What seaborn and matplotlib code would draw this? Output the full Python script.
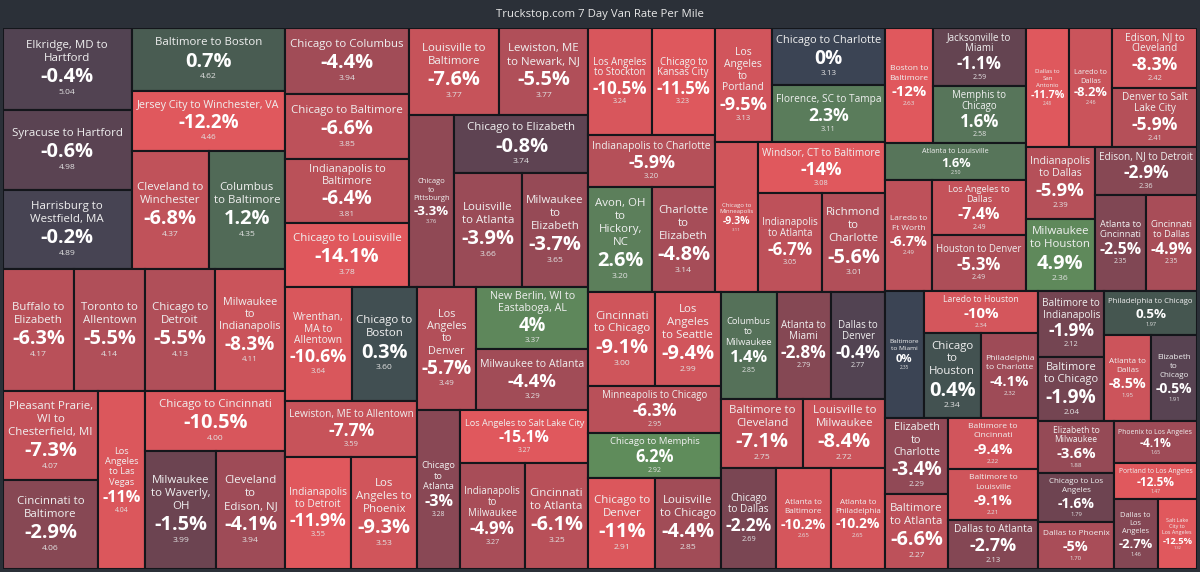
import numpy as np
import pandas as pd
import matplotlib
matplotlib.use("Agg")
import matplotlib.pyplot as plt
from matplotlib.patches import Rectangle
from matplotlib.textpath import TextPath
from matplotlib.font_manager import FontProperties
import seaborn as sns

# ------------------------------------------------------------------
# Data: lane, 7-day % change, rate per mile (tile area = rate)
# ------------------------------------------------------------------
lanes = [
    "Elkridge, MD to Hartford", "Syracuse to Hartford", "Harrisburg to Westfield, MA",
    "Baltimore to Boston", "Jersey City to Winchester, VA", "Cleveland to Winchester",
    "Columbus to Baltimore", "Buffalo to Elizabeth", "Toronto to Allentown",
    "Chicago to Detroit", "Milwaukee to Indianapolis", "Pleasant Prarie, WI to Chesterfield, MI",
    "Cincinnati to Baltimore", "Los Angeles to Las Vegas", "Chicago to Cincinnati",
    "Milwaukee to Waverly, OH", "Cleveland to Edison, NJ", "Chicago to Columbus",
    "Chicago to Baltimore", "Indianapolis to Baltimore", "Chicago to Louisville",
    "Louisville to Baltimore", "Lewiston, ME to Newark, NJ", "Chicago to Pittsburgh",
    "Chicago to Elizabeth", "Louisville to Atlanta", "Milwaukee to Elizabeth",
    "Wrenthan, MA to Allentown", "Chicago to Boston", "Lewiston, ME to Allentown",
    "Indianapolis to Detroit", "Los Angeles to Phoenix", "Los Angeles to Denver",
    "New Berlin, WI to Eastaboga, AL", "Milwaukee to Atlanta", "Chicago to Atlanta",
    "Los Angeles to Salt Lake City", "Indianapolis to Milwaukee", "Cincinnati to Atlanta",
    "Los Angeles to Stockton", "Chicago to Kansas City", "Indianapolis to Charlotte",
    "Avon, OH to Hickory, NC", "Charlotte to Elizabeth", "Los Angeles to Portland",
    "Chicago to Charlotte", "Florence, SC to Tampa", "Chicago to Minneapolis",
    "Windsor, CT to Baltimore", "Indianapolis to Atlanta", "Richmond to Charlotte",
    "Cincinnati to Chicago", "Los Angeles to Seattle", "Minneapolis to Chicago",
    "Chicago to Memphis", "Chicago to Denver", "Louisville to Chicago",
    "Columbus to Milwaukee", "Atlanta to Miami", "Dallas to Denver",
    "Baltimore to Cleveland", "Louisville to Milwaukee", "Chicago to Dallas",
    "Atlanta to Baltimore", "Atlanta to Philadelphia", "Boston to Baltimore",
    "Jacksonville to Miami", "Memphis to Chicago", "Atlanta to Louisville",
    "Laredo to Ft Worth", "Los Angeles to Dallas", "Houston to Denver",
    "Dallas to San Antonio", "Laredo to Dallas", "Edison, NJ to Cleveland",
    "Denver to Salt Lake City", "Indianapolis to Dallas", "Milwaukee to Houston",
    "Edison, NJ to Detroit", "Atlanta to Cincinnati", "Cincinnati to Dallas",
    "Baltimore to Miami", "Laredo to Houston", "Chicago to Houston",
    "Philadelphia to Charlotte", "Elizabeth to Charlotte", "Baltimore to Atlanta",
    "Baltimore to Cincinnati", "Baltimore to Louisville", "Dallas to Atlanta",
    "Baltimore to Indianapolis", "Baltimore to Chicago", "Philadelphia to Chicago",
    "Atlanta to Dallas", "Elizabeth to Chicago", "Elizabeth to Milwaukee",
    "Chicago to Los Angeles", "Dallas to Phoenix", "Phoenix to Los Angeles",
    "Portland to Los Angeles", "Dallas to Los Angeles", "Salt Lake City to Los Angeles",
]
pct_change = [
    -0.4, -0.6, -0.2, 0.7, -12.2, -6.8, 1.2, -6.3, -5.5, -5.5, -8.3, -7.3,
    -2.9, -11, -10.5, -1.5, -4.1, -4.4, -6.6, -6.4, -14.1, -7.6, -5.5, -3.3,
    -0.8, -3.9, -3.7, -10.6, 0.3, -7.7, -11.9, -9.3, -5.7, 4, -4.4, -3,
    -15.1, -4.9, -6.1, -10.5, -11.5, -5.9, 2.6, -4.8, -9.5, 0, 2.3, -9.3,
    -14, -6.7, -5.6, -9.1, -9.4, -6.3, 6.2, -11, -4.4, 1.4, -2.8, -0.4,
    -7.1, -8.4, -2.2, -10.2, -10.2, -12, -1.1, 1.6, 1.6, -6.7, -7.4, -5.3,
    -11.7, -8.2, -8.3, -5.9, -5.9, 4.9, -2.9, -2.5, -4.9, 0, -10, 0.4,
    -4.1, -3.4, -6.6, -9.4, -9.1, -2.7, -1.9, -1.9, 0.5, -8.5, -0.5, -3.6,
    -1.6, -5, -4.1, -12.5, -2.7, -12.5,
]
rate = [
    5.04, 4.98, 4.89, 4.62, 4.46, 4.37, 4.35, 4.17, 4.14, 4.13, 4.11, 4.07,
    4.06, 4.04, 4.00, 3.99, 3.94, 3.94, 3.85, 3.81, 3.78, 3.77, 3.77, 3.76,
    3.74, 3.66, 3.65, 3.64, 3.60, 3.59, 3.55, 3.53, 3.49, 3.37, 3.29, 3.28,
    3.27, 3.27, 3.25, 3.24, 3.23, 3.20, 3.20, 3.14, 3.13, 3.13, 3.11, 3.11,
    3.08, 3.05, 3.01, 3.00, 2.99, 2.95, 2.92, 2.91, 2.85, 2.85, 2.79, 2.77,
    2.75, 2.72, 2.69, 2.65, 2.65, 2.63, 2.59, 2.58, 2.50, 2.49, 2.49, 2.49,
    2.48, 2.46, 2.42, 2.41, 2.39, 2.36, 2.36, 2.35, 2.35, 2.35, 2.34, 2.34,
    2.32, 2.29, 2.27, 2.22, 2.21, 2.13, 2.12, 2.04, 1.97, 1.95, 1.91, 1.88,
    1.79, 1.70, 1.65, 1.47, 1.46, 1.32,
]
title = "Truckstop.com 7 Day Van Rate Per Mile"

df = pd.DataFrame({"lane": lanes, "pct": pct_change, "rate": rate})
df = df.sort_values("rate", ascending=False, kind="mergesort").reset_index(drop=True)

# ------------------------------------------------------------------
# Binary treemap layout (split at half of the value, along the long side)
# ------------------------------------------------------------------
W, H = 1194.0, 541.0
rects = [None] * len(df)
vals = df["rate"].values


def partition(i, j, x0, y0, x1, y1):
    if j - i == 1:
        rects[i] = (x0, y0, x1, y1)
        return
    sub = vals[i:j]
    total = sub.sum()
    cum = np.cumsum(sub)
    k = int(np.sum(cum <= total / 2 + 1e-9))
    k = max(1, min(k, j - i - 1))
    left = cum[k - 1]
    if (x1 - x0) > (y1 - y0):
        xm = x0 + (x1 - x0) * left / total
        partition(i, i + k, x0, y0, xm, y1)
        partition(i + k, j, xm, y0, x1, y1)
    else:
        ym = y0 + (y1 - y0) * left / total
        partition(i, i + k, x0, y0, x1, ym)
        partition(i + k, j, x0, ym, x1, y1)


partition(0, len(df), 0, 0, W, H)

# ------------------------------------------------------------------
# Colours
# ------------------------------------------------------------------
stop_pct = [-12, -7, -4, -1.5, -0.5, 0, 0.5, 1.5, 3, 6]
stop_col = ["#e0585d", "#c2525a", "#9c4b57", "#6c4451", "#584352",
            "#3b4454", "#455650", "#56735a", "#5e845b", "#5f8c5b"]
cmap = sns.blend_palette(stop_col, n_colors=256, as_cmap=True)

sns.set_theme(style="dark")
plt.rcParams["font.family"] = ["Open Sans", "DejaVu Sans"]

fp_reg = FontProperties(family="Open Sans")
fp_bold = FontProperties(family="Open Sans", weight="bold")
_cache = {}


def text_w(s, bold=False):
    key = (s, bold)
    if key not in _cache:
        tp = TextPath((0, 0), s, size=100, prop=fp_bold if bold else fp_reg)
        _cache[key] = tp.get_extents().width / 100.0
    return _cache[key]


def wrap_options(words):
    n = len(words)
    for mask in range(2 ** (n - 1)):
        lines, cur = [], [words[0]]
        for q in range(1, n):
            if (mask >> (q - 1)) & 1:
                lines.append(" ".join(cur))
                cur = [words[q]]
            else:
                cur.append(words[q])
        lines.append(" ".join(cur))
        yield lines


LAB, PCT, RATE = 11.5, 20.0, 8.5   # base sizes in px
LH_LAB, LH_PCT, LH_RATE = 1.12, 1.12, 1.25
PX2PT = 0.72

fig = plt.figure(figsize=(12, 5.72), dpi=100, facecolor="#2b3038")
fig.text(0.5, 1 - 14 / 572, title, ha="center", va="center",
         color="#e8e8e8", fontsize=8.2)
ax = fig.add_axes([3 / 1200, 3 / 572, W / 1200, H / 572])
ax.set_xlim(0, W)
ax.set_ylim(H, 0)
ax.axis("off")

for idx, row in df.iterrows():
    x0, y0, x1, y1 = rects[idx]
    w, h = x1 - x0, y1 - y0
    pos = np.interp(row["pct"], stop_pct, np.linspace(0, 1, len(stop_pct)))
    ax.add_patch(Rectangle((x0, y0), w, h, facecolor=cmap(pos),
                           edgecolor="#14161b", linewidth=1.5))

    pct_txt = f"{row['pct']:g}%"
    rate_txt = f"{row['rate']:.2f}"
    best = None
    for lines in wrap_options(row["lane"].split()):
        bw = max(max(text_w(l) for l in lines) * LAB,
                 text_w(pct_txt, True) * PCT, text_w(rate_txt) * RATE)
        bh = len(lines) * LAB * LH_LAB + PCT * LH_PCT + RATE * LH_RATE
        s = min(1.0, (w - 10) / bw, (h - 8) / bh)
        key = (round(s, 3), -len(lines), len(lines[0]))
        if best is None or key > best[0]:
            best = (key, s, lines, bh)
    _, s, lines, bh = best

    cx = (x0 + x1) / 2
    y = (y0 + y1) / 2 - bh * s / 2
    for l in lines:
        ax.text(cx, y + LAB * LH_LAB * 0.5 * s, l, ha="center", va="center",
                color="#f0f0f0", fontsize=LAB * s * PX2PT)
        y += LAB * LH_LAB * s
    ax.text(cx, y + PCT * LH_PCT * 0.55 * s, pct_txt, ha="center", va="center",
            color="white", fontsize=PCT * s * PX2PT, fontweight="bold")
    y += PCT * LH_PCT * s
    ax.text(cx, y + RATE * LH_RATE * 0.5 * s, rate_txt, ha="center", va="center",
            color="#e2e2e2", fontsize=RATE * s * PX2PT)

fig.savefig("out.png", dpi=100, facecolor=fig.get_facecolor())
